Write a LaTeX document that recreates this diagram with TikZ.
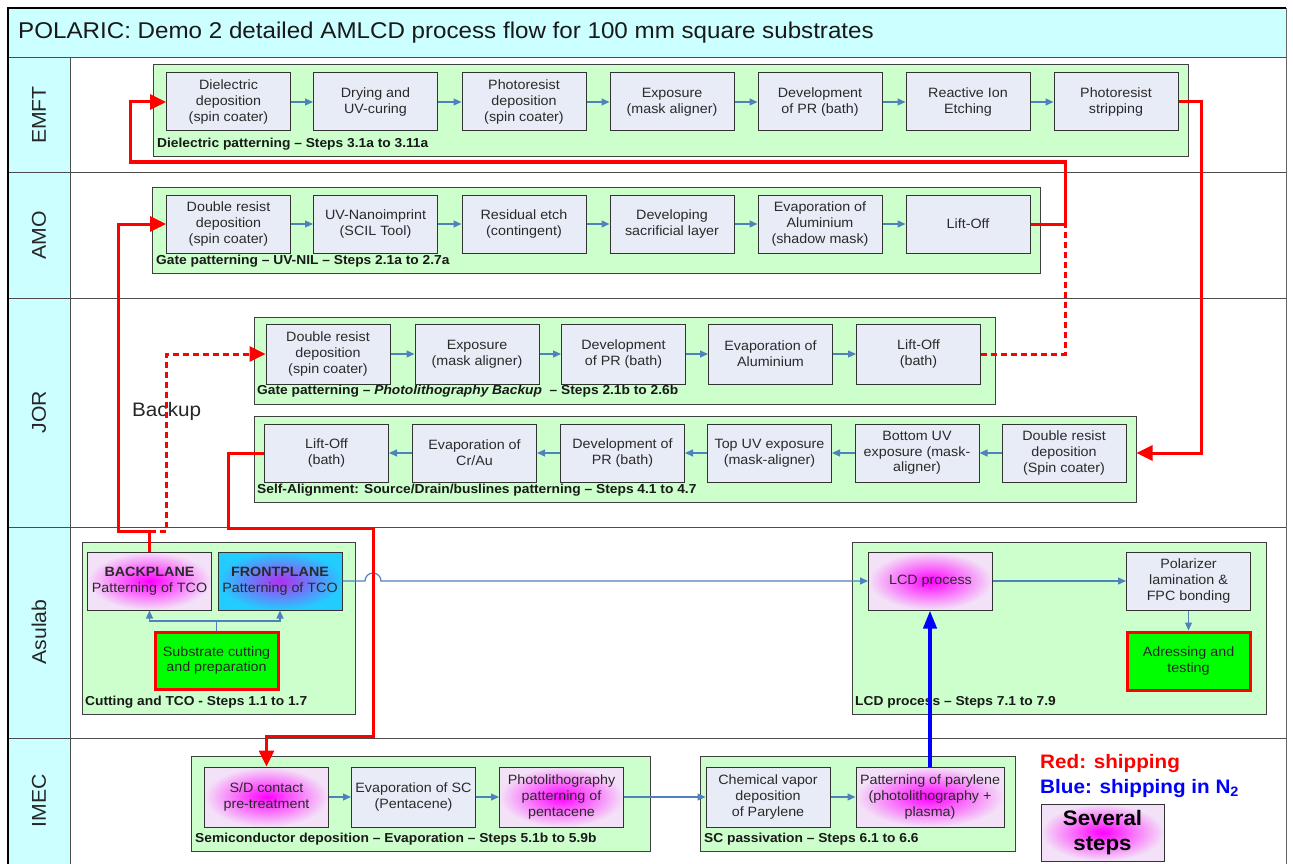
\documentclass[tikz,border=0pt]{standalone}
\usepackage{fontspec}
\setmainfont[FakeStretch=1.06]{Liberation Sans}
\usetikzlibrary{arrows.meta}
\definecolor{boxfill}{HTML}{E8ECF6}
\definecolor{boxline}{HTML}{333333}
\definecolor{boxtext}{HTML}{2A2A2A}
\definecolor{grpfill}{HTML}{CCFFCC}
\definecolor{grpline}{HTML}{404040}
\definecolor{band}{HTML}{CCFFFF}
\definecolor{flowblue}{HTML}{4F81BD}
\definecolor{maglight}{HTML}{F3E2F7}
\definecolor{magc}{HTML}{FF00FF}
\definecolor{fpout}{HTML}{22CCFF}
\definecolor{fpin}{HTML}{B030F0}
\definecolor{shipred}{HTML}{FF0000}
\definecolor{shipblue}{HTML}{0000FF}
\definecolor{brightgreen}{HTML}{00FF00}
\newcommand\boxfont{\fontsize{13.5}{15.7}\selectfont}
\tikzset{
  box/.style={draw=boxline, line width=1pt, fill=boxfill, minimum width=124pt,
    minimum height=58pt, inner sep=1pt, align=center, font=\boxfont, text=boxtext},
  magbox/.style={box, shading=radial, inner color=magc, outer color=maglight},
  greenbox/.style={box, fill=brightgreen, draw=shipred, line width=3pt, text=black!85},
  grp/.style={draw=grpline, line width=1pt, fill=grpfill, inner sep=0pt},
  glabel/.style={font=\bfseries\fontsize{13}{15}\selectfont, inner sep=0pt, anchor=west, text=black!90},
  lane/.style={rotate=90, font=\fontsize{20}{22}\selectfont, text=black!85},
  flow/.style={draw=flowblue, line width=1.2pt, -{Triangle[length=8pt,width=7pt]}},
  ship/.style={draw=shipred, line width=3pt},
  shiparrow/.style={ship, -{Triangle[length=16pt,width=15pt]}},
  backup/.style={ship, dash pattern=on 6pt off 4pt},
  backuparrow/.style={backup, -{Triangle[length=16pt,width=15pt]}},
}
\begin{document}
\begin{tikzpicture}[x=1pt,y=-1pt]
\useasboundingbox (0,0) rectangle (1293,864);
% frame
\fill[band] (8,8) rectangle (1286,58);
\fill[band] (8,58) rectangle (70,864);
\draw[black!70, line width=1pt] (8,58) -- (1286,58);
\foreach \yy in {172,298,527,738} \draw[black!70, line width=1pt] (8,\yy) -- (1286,\yy);
\draw[black!70, line width=1pt] (70,58) -- (70,864);
\draw[black, line width=2pt] (8,864) -- (8,8) -- (1286,8);
\draw[black!60, line width=1pt] (1286,8) -- (1286,864);
\node[anchor=west, font=\fontsize{22.8}{26}\selectfont, text=black!90, inner sep=0pt] (title) at (18,33) {POLARIC: Demo 2 detailed AMLCD process flow for 100 mm square substrates};
\node[lane] (LEMFT) at (39,115) {EMFT};
\node[lane] (LAMO) at (39,235) {AMO};
\node[lane] (LJOR) at (39,412) {JOR};
\node[lane] (LAsu) at (39,632) {Asulab};
\node[lane] (LIMEC) at (39,801) {IMEC};

% groups
\node[grp, minimum width=1035pt, minimum height=92pt] (gE) at (670.5,111) {};
\node[grp, minimum width=888pt, minimum height=86pt] (gA) at (596,230) {};
\node[grp, minimum width=741pt, minimum height=87pt] (gJ1) at (624.5,360.5) {};
\node[grp, minimum width=882pt, minimum height=86pt] (gJ2) at (695,459) {};
\node[grp, minimum width=273pt, minimum height=172pt] (gS) at (218.5,628) {};
\node[grp, minimum width=414pt, minimum height=172pt] (gL) at (1059,628) {};
\node[grp, minimum width=459pt, minimum height=95pt] (gI1) at (420.5,803.5) {};
\node[grp, minimum width=315pt, minimum height=95pt] (gI2) at (857.5,803.5) {};

\node[glabel] (lE) at (157,144) {Dielectric patterning – Steps 3.1a to 3.11a};
\node[glabel] (lA) at (156,261) {Gate patterning – UV-NIL – Steps 2.1a to 2.7a};
\node[glabel] (lJ1) at (257,391) {Gate patterning – \textit{Photolithography Backup}\ \ – Steps 2.1b to 2.6b};
\node[glabel] (lJ2) at (257,490) {Self-Alignment: Source/Drain/buslines patterning – Steps 4.1 to 4.7};
\node[glabel] (lS) at (85,702) {Cutting and TCO - Steps 1.1 to 1.7};
\node[glabel] (lL) at (855,702) {LCD process – Steps 7.1 to 7.9};
\node[glabel] (lI1) at (195,839) {Semiconductor deposition – Evaporation – Steps 5.1b to 5.9b};
\node[glabel] (lI2) at (704,839) {SC passivation – Steps 6.1 to 6.6};

% EMFT
\node[box] (e1) at (228.5,102) {Dielectric\\deposition\\(spin coater)};
\node[box] (e2) at (375.5,102) {Drying and\\UV-curing};
\node[box] (e3) at (524,102) {Photoresist\\deposition\\(spin coater)};
\node[box] (e4) at (672,102) {Exposure\\(mask aligner)};
\node[box] (e5) at (820,102) {Development\\of PR (bath)};
\node[box] (e6) at (968,102) {Reactive Ion\\Etching};
\node[box] (e7) at (1116,102) {Photoresist\\stripping};
% AMO
\node[box] (a1) at (228.5,224) {Double resist\\deposition\\(spin coater)};
\node[box] (a2) at (375.5,224) {UV-Nanoimprint\\(SCIL Tool)};
\node[box] (a3) at (524,224) {Residual etch\\(contingent)};
\node[box] (a4) at (672,224) {Developing\\sacrificial layer};
\node[box] (a5) at (820,224) {Evaporation of\\Aluminium\\(shadow mask)};
\node[box] (a6) at (968,224) {Lift-Off};
% JOR backup
\node[box, minimum height=60pt] (j1) at (328,354) {Double resist\\deposition\\(spin coater)};
\node[box, minimum height=60pt] (j2) at (477,354) {Exposure\\(mask aligner)};
\node[box, minimum height=60pt] (j3) at (623.5,354) {Development\\of PR (bath)};
\node[box, minimum height=60pt] (j4) at (770.5,354) {Evaporation of\\Aluminium};
\node[box, minimum height=60pt] (j5) at (918.5,354) {Lift-Off\\(bath)};
% JOR self-alignment
\node[box] (k1) at (326.5,453) {Lift-Off\\(bath)};
\node[box] (k2) at (474.5,453) {Evaporation of\\Cr/Au};
\node[box] (k3) at (622.5,453) {Development of\\PR (bath)};
\node[box] (k4) at (769.5,453) {Top UV exposure\\(mask-aligner)};
\node[box] (k5) at (917,453) {Bottom UV\\exposure (mask-\\aligner)};
\node[box] (k6) at (1064,453) {Double resist\\deposition\\(Spin coater)};
% Asulab
\node[magbox] (bp) at (149.5,581) {\textbf{BACKPLANE}\\Patterning of TCO};
\node[box, shading=radial, inner color=fpin, outer color=fpout] (fp) at (280,581) {\textbf{FRONTPLANE}\\Patterning of TCO};
\node[greenbox, minimum width=123pt, minimum height=57pt] (sub) at (216.5,660.5) {Substrate cutting\\and preparation};
\node[magbox] (lcd) at (930.5,581) {LCD process};
\node[box] (pol) at (1188.5,581) {Polarizer\\lamination \&\\FPC bonding};
\node[greenbox, minimum width=123pt, minimum height=58pt] (adr) at (1188.5,661) {Adressing and\\testing};
% IMEC
\node[magbox, minimum height=60pt] (sd) at (266.5,797) {S/D contact\\pre-treatment};
\node[box, minimum height=60pt] (evsc) at (413.5,797) {Evaporation of SC\\(Pentacene)};
\node[magbox, minimum height=60pt] (pl) at (561.5,797) {Photolithography\\patterning of\\pentacene};
\node[box, minimum height=60pt] (chem) at (768,797) {Chemical vapor\\deposition\\of Parylene};
\node[magbox, minimum width=148pt, minimum height=60pt] (pp) at (930,797) {Patterning of parylene\\(photolithography +\\plasma)};

% legend
\node[anchor=west, inner sep=0pt, font=\bfseries\fontsize{19.5}{22}\selectfont, text=shipred] (legR) at (1040,763) {Red: shipping};
\node[anchor=west, inner sep=0pt, font=\bfseries\fontsize{19.5}{22}\selectfont, text=shipblue] (legB) at (1040,788) {Blue: shipping in N\textsubscript{2}};
\node[magbox, minimum width=123pt, minimum height=57pt, font=\bfseries\fontsize{21}{25}\selectfont, text=black] (sev) at (1102.5,832.5) {Several\\steps};
\node[anchor=west, inner sep=0pt, font=\fontsize{19.5}{22}\selectfont, text=black!85] (bk) at (132,411) {Backup};

% flow connectors
\foreach \a/\b in {e1/e2,e2/e3,e3/e4,e4/e5,e5/e6,e6/e7,a1/a2,a2/a3,a3/a4,a4/a5,a5/a6,j1/j2,j2/j3,j3/j4,j4/j5,sd/evsc,evsc/pl,pl/chem,chem/pp,lcd/pol}
  \draw[flow] (\a.east) -- (\b.west);
\foreach \a/\b in {k6/k5,k5/k4,k4/k3,k3/k2,k2/k1}
  \draw[flow] (\a.west) -- (\b.east);
\draw[flow] (pol.south) -- (adr.north);
\coordinate (fork) at (216.5,621);
\draw[draw=flowblue, line width=1.2pt] (sub.north) -- (fork);
\draw[flow] (fork) -| (bp.south);
\draw[flow] (fork) -| (fp.south);
\coordinate (hop) at (365,581);
\draw[flow] (fp.east) -- (hop) arc[start angle=180, end angle=0, radius=8pt] -- (lcd.west);

% shipping connectors
\coordinate (rA) at (1201,102);
\draw[shiparrow] (e7.east) -- (rA) |- (gJ2.east |- k6.east);
\coordinate (c1) at (1065,162);
\coordinate (c2) at (130,162);
\draw[shiparrow] (a6.east) -| (c1) -- (c2) |- (e1.west);
\draw[backup] (j5.east) -| (a6.east -| c1);
\coordinate (c5) at (118,531);
\coordinate (c6) at (166,531);
\draw[shiparrow] (bp.north) |- (c5) |- (a1.west);
\draw[backuparrow] (bp.north |- c6) -- (c6) |- (j1.west);
\coordinate (c7) at (228,528);
\coordinate (c8) at (373,736);
\draw[shiparrow] (k1.west) -| (c7) -| (c8) -| (sd.north);
\draw[draw=shipblue, line width=4pt, -{Triangle[length=18pt,width=13pt]}] (pp.north) -- (pp.north |- lcd.south);
\end{tikzpicture}
\end{document}
